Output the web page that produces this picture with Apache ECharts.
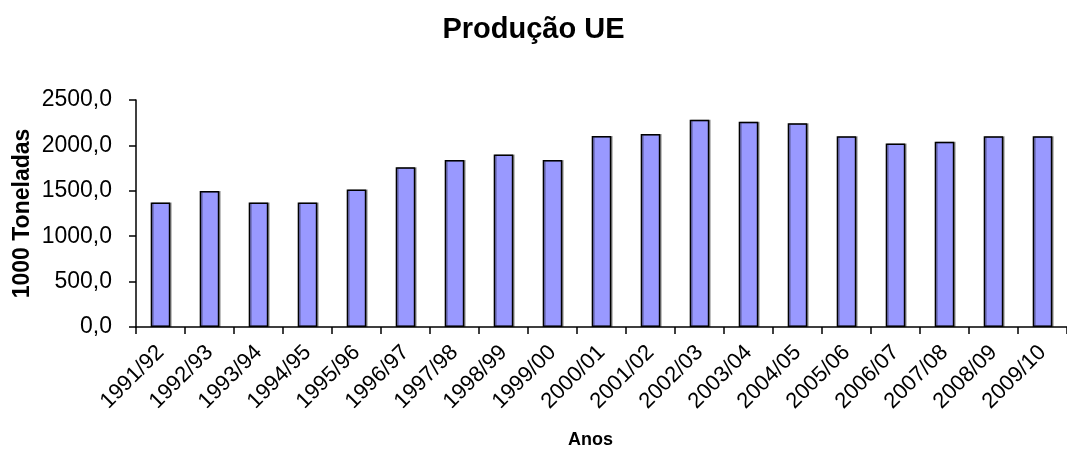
<!DOCTYPE html>
<html>
<head>
<meta charset="utf-8">
<script src="https://cdn.jsdelivr.net/npm/echarts@6/dist/echarts.min.js"></script>
<style>
  html, body { margin: 0; padding: 0; background: #fff; }
  #chart { width: 1067px; height: 463px; }
</style>
</head>
<body>
<div id="chart"></div>
<script>
// campanhas (eixo X)
var anos = ['1991/92', '1992/93', '1993/94', '1994/95', '1995/96', '1996/97', '1997/98',
            '1998/99', '1999/00', '2000/01', '2001/02', '2002/03', '2003/04', '2004/05',
            '2005/06', '2006/07', '2007/08', '2008/09', '2009/10'];
// producao em 1000 toneladas
var producao = [1372, 1497, 1372, 1372, 1513, 1758, 1838, 1899, 1838, 2103,
                2125, 2283, 2261, 2243, 2100, 2022, 2040, 2100, 2100];

var fonte = 'Liberation Sans, Arial, sans-serif';

var chart = echarts.init(document.getElementById('chart'));

var option = {
    animation: false,
    title: {
        text: 'Produção UE',
        left: 'center',
        top: 10,
        textStyle: { fontFamily: fonte, fontSize: 29, fontWeight: 'bold', color: '#000' }
    },
    grid: {
        left: 136,
        right: -11,
        top: 100,
        bottom: 136
    },
    xAxis: {
        type: 'category',
        data: anos,
        name: 'Anos',
        nameLocation: 'middle',
        nameGap: 104,
        nameMoveOverlap: false,
        nameTextStyle: { fontFamily: fonte, fontSize: 18, fontWeight: 'bold', color: '#000', padding: [0, 22, 0, 0] },
        axisLine: { lineStyle: { color: '#000', width: 1.5 } },
        axisTick: { show: true, length: 7, lineStyle: { color: '#000', width: 1.5 } },
        axisLabel: {
            rotate: 45,
            interval: 0,
            margin: 22,
            fontFamily: fonte,
            fontSize: 22,
            color: '#000'
        }
    },
    yAxis: {
        type: 'value',
        min: 0,
        max: 2500,
        interval: 500,
        name: '1000 Toneladas',
        nameLocation: 'middle',
        nameRotate: 90,
        nameGap: 102,
        nameMoveOverlap: false,
        nameTextStyle: { fontFamily: fonte, fontSize: 23, fontWeight: 'bold', color: '#000' },
        axisLine: { show: true, lineStyle: { color: '#000', width: 1.5 } },
        axisTick: { show: true, length: 7, lineStyle: { color: '#000', width: 1.5 } },
        splitLine: { show: false },
        axisLabel: {
            margin: 24,
            fontFamily: fonte,
            fontSize: 23,
            color: '#000',
            formatter: function (v) { return v.toFixed(1).replace('.', ','); }
        }
    },
    series: [
        {
            name: 'Produção',
            type: 'bar',
            data: producao,
            barWidth: '40%',
            itemStyle: {
                color: '#9999FF',
                borderColor: '#000',
                borderWidth: 1.5,
                shadowColor: 'rgba(0,0,0,0.3)',
                shadowOffsetX: 1.5,
                shadowBlur: 0
            }
        }
    ]
};

chart.setOption(option);
</script>
</body>
</html>
